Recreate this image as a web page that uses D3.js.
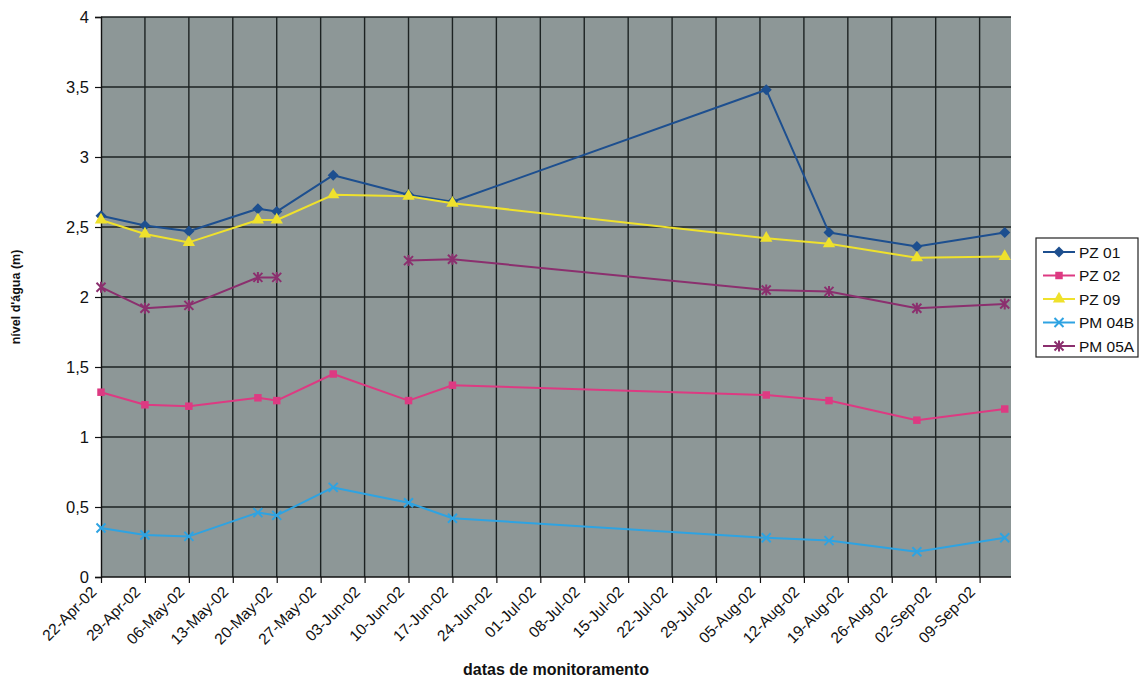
<!DOCTYPE html>
<html>
<head>
<meta charset="utf-8">
<script src="https://cdn.jsdelivr.net/npm/d3@7"></script>
<style>
  html, body { margin: 0; padding: 0; background: #ffffff; }
  svg { display: block; font-family: "Liberation Sans", Arial, sans-serif; }
</style>
</head>
<body>
<svg id="chart" width="1140" height="683"></svg>
<script>
// Monitoring dates (2002)
const dates = ["2002-04-22", "2002-04-29", "2002-05-06", "2002-05-17", "2002-05-20", "2002-05-29",
               "2002-06-10", "2002-06-17", "2002-08-06", "2002-08-16", "2002-08-30", "2002-09-13"];

// Water level (m) per well; null = no reading
const pz01  = [2.58, 2.51, 2.47, 2.63, 2.61, 2.87, 2.73, 2.68, 3.48, 2.46, 2.36, 2.46];
const pz02  = [1.32, 1.23, 1.22, 1.28, 1.26, 1.45, 1.26, 1.37, 1.30, 1.26, 1.12, 1.20];
const pz09  = [2.55, 2.45, 2.39, 2.55, 2.55, 2.73, 2.72, 2.67, 2.42, 2.38, 2.28, 2.29];
const pm04b = [0.35, 0.30, 0.29, 0.46, 0.44, 0.64, 0.53, 0.42, 0.28, 0.26, 0.18, 0.28];
const pm05a = [2.07, 1.92, 1.94, 2.14, 2.14, null, 2.26, 2.27, 2.05, 2.04, 1.92, 1.95];

const seriesNames = ["PZ 01", "PZ 02", "PZ 09", "PM 04B", "PM 05A"];
const yTicks = [0, 0.5, 1, 1.5, 2, 2.5, 3, 3.5, 4];
const xStart = "2002-04-22", xEnd = "2002-09-14";

const parse = d3.timeParse("%Y-%m-%d");
const fmtTick = d3.timeFormat("%d-%b-%y");
const fmtY = v => String(v).replace(".", ",");

const series = [
  { name: seriesNames[0], values: pz01,  color: "#1d4f8f", marker: "diamond" },
  { name: seriesNames[1], values: pz02,  color: "#dd3a82", marker: "square" },
  { name: seriesNames[2], values: pz09,  color: "#efe12c", marker: "triangle" },
  { name: seriesNames[3], values: pm04b, color: "#2ea3e2", marker: "cross" },
  { name: seriesNames[4], values: pm05a, color: "#8b2f6e", marker: "star" }
];

const svg = d3.select("#chart");
const plot = { left: 101, right: 1011, top: 17, bottom: 577 };

const x = d3.scaleTime()
  .domain([parse(xStart), parse(xEnd)])
  .range([plot.left, plot.right]);
const y = d3.scaleLinear().domain([0, 4]).range([plot.bottom, plot.top]);

const weekly = d3.timeMonday.range(parse(xStart), d3.timeDay.offset(parse(xEnd), 1));

// plot background
svg.append("rect")
  .attr("x", plot.left).attr("y", plot.top)
  .attr("width", plot.right - plot.left).attr("height", plot.bottom - plot.top)
  .attr("fill", "#8d9797");

// grid
const grid = svg.append("g").attr("stroke", "#1c2222").attr("stroke-width", 1.4);
grid.selectAll("line.h").data(yTicks.filter(v => v > 0)).join("line")
  .attr("x1", plot.left).attr("x2", plot.right)
  .attr("y1", d => y(d)).attr("y2", d => y(d));
grid.selectAll("line.v").data(weekly.slice(1)).join("line")
  .attr("x1", d => x(d)).attr("x2", d => x(d))
  .attr("y1", plot.top).attr("y2", plot.bottom);

// y axis
const yAxis = svg.append("g")
  .attr("transform", `translate(${plot.left},0)`)
  .call(d3.axisLeft(y).tickValues(yTicks).tickFormat(fmtY).tickSize(6).tickPadding(6));
yAxis.select(".domain").attr("stroke", "#111").attr("stroke-width", 1.4);
yAxis.selectAll(".tick line").attr("stroke", "#111").attr("stroke-width", 1.2);
yAxis.selectAll("text").attr("font-size", 16.5).attr("fill", "#111")
  .attr("font-family", "Liberation Sans, Arial, sans-serif");

// x axis
const xAxis = svg.append("g")
  .attr("transform", `translate(0,${plot.bottom})`)
  .call(d3.axisBottom(x).tickValues(weekly).tickFormat(fmtTick).tickSize(6).tickSizeOuter(0));
xAxis.select(".domain").attr("stroke", "#111").attr("stroke-width", 1.4)
  .attr("d", `M${plot.left},0H${plot.right}`);
xAxis.selectAll(".tick line").attr("stroke", "#111").attr("stroke-width", 1.2);
xAxis.selectAll("text")
  .attr("font-size", 15.5).attr("fill", "#111")
  .attr("font-family", "Liberation Sans, Arial, sans-serif")
  .attr("text-anchor", "end")
  .attr("dy", null).attr("y", null)
  .attr("transform", "translate(-4,16) rotate(-45)");

// axis titles
svg.append("text")
  .attr("x", 556).attr("y", 675)
  .attr("text-anchor", "middle")
  .attr("font-size", 16).attr("font-weight", "bold").attr("fill", "#111")
  .text("datas de monitoramento");
svg.append("text")
  .attr("transform", `translate(20,${(plot.top + plot.bottom) / 2}) rotate(-90)`)
  .attr("text-anchor", "middle")
  .attr("font-size", 12.5).attr("font-weight", "bold").attr("fill", "#111")
  .text("nível d'água (m)");

// marker drawing
function drawMarker(g, type, color) {
  if (type === "diamond") {
    g.append("path").attr("d", "M0,-5.5L5.5,0L0,5.5L-5.5,0Z").attr("fill", color);
  } else if (type === "square") {
    g.append("path").attr("d", d3.symbol(d3.symbolSquare, 56)()).attr("fill", color);
  } else if (type === "triangle") {
    g.append("path").attr("d", d3.symbol(d3.symbolTriangle, 66)()).attr("fill", color);
  } else if (type === "cross") {
    g.append("path").attr("d", "M-4.5,-4.5L4.5,4.5M-4.5,4.5L4.5,-4.5")
      .attr("stroke", color).attr("stroke-width", 2).attr("fill", "none");
  } else if (type === "star") {
    g.append("path").attr("d", "M-4.5,-4.5L4.5,4.5M-4.5,4.5L4.5,-4.5M0,-5.5L0,5.5")
      .attr("stroke", color).attr("stroke-width", 2).attr("fill", "none");
  }
}

const line = d3.line()
  .defined(d => d.v !== null)
  .x(d => x(d.date))
  .y(d => y(d.v));

const marks = svg.append("g");
series.forEach(s => {
  const pts = dates.map((d, i) => ({ date: parse(d), v: s.values[i] }));
  marks.append("path")
    .datum(pts)
    .attr("d", line)
    .attr("fill", "none")
    .attr("stroke", s.color)
    .attr("stroke-width", 2)
    .attr("stroke-linejoin", "round");
  pts.filter(p => p.v !== null).forEach(p => {
    const g = marks.append("g").attr("transform", `translate(${x(p.date)},${y(p.v)})`);
    drawMarker(g, s.marker, s.color);
  });
});

// legend
const legend = svg.append("g").attr("transform", "translate(1036,238)");
legend.append("rect")
  .attr("x", 0).attr("y", 0).attr("width", 102).attr("height", 119)
  .attr("fill", "#ffffff").attr("stroke", "#222").attr("stroke-width", 1.2);
series.forEach((s, i) => {
  const row = legend.append("g").attr("transform", `translate(0,${14 + i * 23.5})`);
  row.append("line").attr("x1", 7).attr("x2", 39).attr("y1", 0).attr("y2", 0)
    .attr("stroke", s.color).attr("stroke-width", 2);
  const m = row.append("g").attr("transform", "translate(23,0)");
  drawMarker(m, s.marker, s.color);
  row.append("text").attr("x", 43).attr("y", 0).attr("dy", "0.36em")
    .attr("font-size", 15.5).attr("fill", "#111").text(s.name);
});
</script>
</body>
</html>
